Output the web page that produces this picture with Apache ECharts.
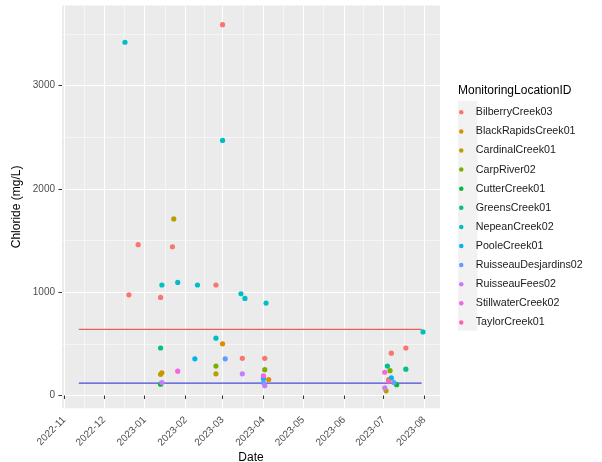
<!DOCTYPE html>
<html>
<head>
<meta charset="utf-8">
<script src="https://cdn.jsdelivr.net/npm/echarts@6/dist/echarts.min.js"></script>
<style>
  html, body { margin: 0; padding: 0; background: #ffffff; }
  #chart { width: 602px; height: 462px; }
</style>
</head>
<body>
<div id="chart"></div>
<script>
// Chloride samples per monitoring location: [sample date, chloride mg/L]
const bilberryCreek03 = [['2022-12-20', 975], ['2022-12-27', 1460], ['2023-01-13', 950], ['2023-01-22', 1440], ['2023-02-24', 1070], ['2023-03-01', 3590], ['2023-03-16', 360], ['2023-04-02', 360], ['2023-07-07', 410], ['2023-07-18', 460]];
const blackRapidsCreek01 = [['2023-01-14', 220], ['2023-03-01', 500], ['2023-04-05', 155], ['2023-07-05', 155]];
const cardinalCreek01 = [['2023-01-13', 205], ['2023-01-23', 1710], ['2023-02-24', 210], ['2023-07-03', 45]];
const carpRiver02 = [['2023-02-24', 285], ['2023-04-02', 250], ['2023-07-06', 240]];
const cutterCreek01 = [['2023-01-13', 110], ['2023-07-11', 105]];
const greensCreek01 = [['2023-01-13', 460], ['2023-07-04', 285], ['2023-07-18', 255]];
const nepeanCreek02 = [['2022-12-17', 3420], ['2023-01-14', 1070], ['2023-01-26', 1095], ['2023-02-10', 1070], ['2023-02-24', 555], ['2023-03-01', 2470], ['2023-03-15', 985], ['2023-03-18', 940], ['2023-04-03', 895], ['2023-07-31', 615]];
const pooleCreek01 = [['2023-02-08', 355], ['2023-04-01', 165], ['2023-07-07', 170]];
const ruisseauDesjardins02 = [['2023-03-03', 355], ['2023-04-01', 125], ['2023-07-09', 125]];
const ruisseauFees02 = [['2023-01-14', 125], ['2023-03-16', 210], ['2023-04-02', 95], ['2023-07-02', 75]];
const stillwaterCreek02 = [['2023-01-26', 235], ['2023-04-01', 190], ['2023-07-02', 225]];
const taylorCreek01 = [['2023-07-05', 140]];

const locationNames = ['BilberryCreek03', 'BlackRapidsCreek01', 'CardinalCreek01', 'CarpRiver02', 'CutterCreek01', 'GreensCreek01', 'NepeanCreek02', 'PooleCreek01', 'RuisseauDesjardins02', 'RuisseauFees02', 'StillwaterCreek02', 'TaylorCreek01'];
const locationSamples = [bilberryCreek03, blackRapidsCreek01, cardinalCreek01, carpRiver02, cutterCreek01, greensCreek01, nepeanCreek02, pooleCreek01, ruisseauDesjardins02, ruisseauFees02, stillwaterCreek02, taylorCreek01];
const locationColors = ['#F8766D', '#DE8C00', '#B79F00', '#7CAE00', '#00BA38', '#00C08B', '#00BFC4', '#00B4F0', '#619CFF', '#C77CFF', '#F564E3', '#FF64B0'];

// Guideline levels (mg/L) drawn across the sampling period
const guidelineValues = [640, 120];
const guidelineColors = ['#E5605C', '#4B4BD8'];
const guidelineSpan = ['2022-11-12', '2023-07-30'];

// Axis breaks
const monthTicks = ['2022-11-01', '2022-12-01', '2023-01-01', '2023-02-01', '2023-03-01', '2023-04-01', '2023-05-01', '2023-06-01', '2023-07-01', '2023-08-01'];
const chlorideTicks = [0, 1000, 2000, 3000];
const chlorideMinorTicks = [500, 1500, 2500, 3500];

const toTime = s => new Date(s).getTime();
const monthTimes = monthTicks.map(toTime);
const midMonthTimes = monthTimes.slice(1).map((t, i) => (t + monthTimes[i]) / 2);

const FONT = "'Liberation Sans', Arial, sans-serif";
const xMin = toTime('2022-10-30T06:00:00Z');
const xMax = toTime('2023-08-12T21:30:00Z');
const yMin = -124;
const yMax = 3776;

const pad2 = n => (n < 10 ? '0' : '') + n;
const monthLabel = v => {
  const d = new Date(v);
  return d.getUTCFullYear() + '-' + pad2(d.getUTCMonth() + 1);
};

const series = [];
guidelineValues.forEach((g, i) => {
  series.push({
    type: 'line',
    name: 'guideline' + g,
    xAxisIndex: 0, yAxisIndex: 0,
    data: guidelineSpan.map(d => [toTime(d), g]),
    showSymbol: false,
    silent: true,
    z: 1,
    lineStyle: { color: guidelineColors[i], width: 1.3 }
  });
});
locationNames.forEach((name, i) => {
  series.push({
    type: 'scatter',
    name: name,
    xAxisIndex: 0, yAxisIndex: 0,
    data: locationSamples[i].map(p => [toTime(p[0]), p[1]]),
    symbolSize: 5.2,
    z: 3,
    itemStyle: { color: locationColors[i], opacity: 1 }
  });
});

const chart = echarts.init(document.getElementById('chart'), null, { renderer: 'canvas' });
chart.setOption({
  animation: false,
  backgroundColor: '#ffffff',
  textStyle: { fontFamily: FONT },
  grid: {
    left: 62, right: 162, top: 5.5, bottom: 53.7,
    show: true, backgroundColor: '#EBEBEB', borderWidth: 0,
    containLabel: false, outerBoundsMode: 'none'
  },
  xAxis: [{
    type: 'value', min: xMin, max: xMax,
    name: 'Date', nameLocation: 'middle', nameGap: 43, nameMoveOverlap: false,
    nameTextStyle: { color: '#000000', fontSize: 12, fontFamily: FONT },
    axisLine: { show: false },
    axisTick: { show: true, length: 3.5, lineStyle: { color: '#333333', width: 1 }, customValues: monthTimes },
    axisLabel: {
      show: true, rotate: 45, margin: 10, color: '#4D4D4D', fontSize: 10, fontFamily: FONT,
      customValues: monthTimes, formatter: monthLabel, hideOverlap: false
    },
    splitLine: { show: true, lineStyle: { color: '#FFFFFF', width: 1 } }
  }, {
    type: 'value', min: xMin, max: xMax, position: 'bottom',
    axisLine: { show: false },
    axisTick: { show: false, customValues: midMonthTimes },
    axisLabel: { show: false, customValues: midMonthTimes },
    splitLine: { show: true, lineStyle: { color: '#FFFFFF', width: 0.5 } }
  }],
  yAxis: [{
    type: 'value', min: yMin, max: yMax,
    name: 'Chloride (mg/L)', nameLocation: 'middle', nameGap: 39, nameRotate: 90, nameMoveOverlap: false,
    nameTextStyle: { color: '#000000', fontSize: 12, fontFamily: FONT },
    axisLine: { show: false },
    axisTick: { show: true, length: 3.5, lineStyle: { color: '#333333', width: 1 }, customValues: chlorideTicks },
    axisLabel: {
      show: true, margin: 7, color: '#4D4D4D', fontSize: 10, fontFamily: FONT,
      customValues: chlorideTicks, formatter: v => String(v)
    },
    splitLine: { show: true, lineStyle: { color: '#FFFFFF', width: 1 } }
  }, {
    type: 'value', min: yMin, max: yMax, position: 'left',
    axisLine: { show: false },
    axisTick: { show: false, customValues: chlorideMinorTicks },
    axisLabel: { show: false, customValues: chlorideMinorTicks },
    splitLine: { show: true, lineStyle: { color: '#FFFFFF', width: 0.5 } }
  }],
  legend: {
    data: locationNames,
    orient: 'vertical',
    left: 459, top: 102.8,
    padding: 0, itemGap: 0.1,
    icon: 'circle', itemWidth: 19, itemHeight: 4.5,
    textStyle: { color: '#1A1A1A', fontSize: 10.7, fontFamily: FONT, lineHeight: 19 },
    selectedMode: false
  },
  graphic: [
    { type: 'rect', left: 458, top: 101, z: 0, shape: { width: 19.5, height: 229.7 }, style: { fill: '#F2F2F2' } },
    { type: 'text', left: 458, top: 85, z: 5, style: { text: 'MonitoringLocationID', fill: '#000000', font: '12px ' + FONT } }
  ],
  series: series
});
</script>
</body>
</html>
